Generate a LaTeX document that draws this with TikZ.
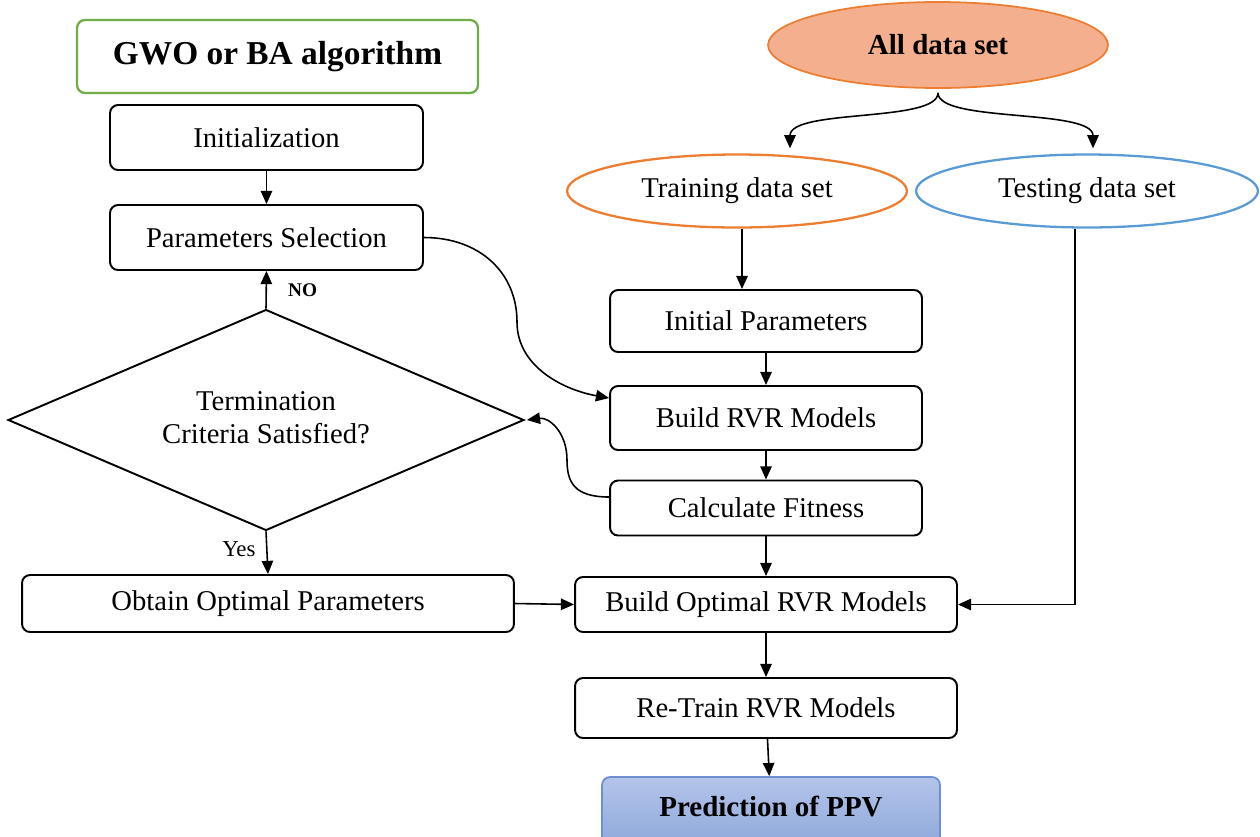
\documentclass[tikz,border=0pt]{standalone}
\usepackage{fontspec}
\setmainfont{Liberation Serif}
\usetikzlibrary{shapes.geometric,arrows.meta}
\definecolor{gwogreen}{HTML}{70AD47}
\definecolor{dataorange}{HTML}{ED7D31}
\definecolor{datafill}{HTML}{F4AF8E}
\definecolor{testblue}{HTML}{5B9BD5}
\definecolor{predtop}{HTML}{B4C4EA}
\definecolor{predbot}{HTML}{8EA8DA}
\definecolor{predline}{HTML}{6F8FD0}
\begin{document}
\begin{tikzpicture}[x=0.02cm,y=-0.02cm,
  txt/.style={font=\fontsize{16.3}{19.5}\selectfont},
  box/.style={txt, draw=black, line width=1.1pt, rounded corners=0.16cm,
    fill=white, inner sep=0pt},
  oval/.style={txt, ellipse, line width=1.3pt, fill=white, inner sep=0pt},
  arr/.style={-{Triangle[length=7.5pt,width=6.5pt]}, line width=0.9pt},
  smalllbl/.style={inner sep=0pt}]
\useasboundingbox (0,0) rectangle (1260,836);

% left column: optimiser loop
\node[box, draw=gwogreen, line width=1.3pt, minimum width=8.02cm, minimum height=1.46cm,
  font=\fontsize{19}{22}\selectfont\bfseries] (gwo) at (277.5,56.5) {GWO or BA algorithm};
\node[box, minimum width=6.26cm, minimum height=1.3cm] (init) at (266.5,137.5) {Initialization};
\node[box, minimum width=6.26cm, minimum height=1.3cm] (param) at (266.5,237.5) {Parameters Selection};
\node[txt, diamond, aspect=2.33, draw=black, line width=1.1pt, inner sep=0pt,
  minimum width=10.32cm, minimum height=4.42cm] (term) at (266,420)
  {\raisebox{6pt}{\begin{tabular}{@{}c@{}}Termination\\[-1pt]Criteria Satisfied?\end{tabular}}};
\node[box, minimum width=9.84cm, minimum height=1.14cm] (obtain) at (268,603.5) {Obtain Optimal Parameters};

% right column: data and model building
\node[oval, draw=dataorange, fill=datafill, line width=1pt, minimum width=6.8cm, minimum height=1.72cm,
  font=\fontsize{16.5}{20}\selectfont\bfseries] (all) at (938,45) {All data set};
\node[oval, draw=dataorange, minimum width=6.8cm, minimum height=1.46cm] (train) at (737,191) {Training data set};
\node[oval, draw=testblue, minimum width=6.84cm, minimum height=1.46cm] (test) at (1087,191) {Testing data set};
\node[box, minimum width=6.24cm, minimum height=1.24cm] (initp) at (766,321) {Initial Parameters};
\node[box, minimum width=6.24cm, minimum height=1.28cm] (brvr) at (766,418) {Build RVR Models};
\node[box, minimum width=6.24cm, minimum height=1.1cm] (calc) at (766,508) {Calculate Fitness};
\node[box, minimum width=7.64cm, minimum height=1.1cm] (bopt) at (766,604.5) {Build Optimal RVR Models};
\node[box, minimum width=7.64cm, minimum height=1.2cm] (retrain) at (766,708) {Re-Train RVR Models};
\node[box, draw=predline, line width=1pt, top color=predtop, bottom color=predbot,
  minimum width=6.76cm, minimum height=1.4cm,
  font=\fontsize{16.5}{20}\selectfont\bfseries] (pred) at (771,812) {\raisebox{6pt}{Prediction of PPV}};

% split of the data set
\coordinate (trainin) at ([xshift=1.06cm,yshift=0.1cm]train.north);
\coordinate (testin) at ([xshift=0.12cm,yshift=0.1cm]test.north);
\draw[arr] ([yshift=-0.08cm]all.south) .. controls +(0,30) and +(0,-40) .. (trainin);
\draw[arr] ([yshift=-0.08cm]all.south) .. controls +(0,30) and +(0,-40) .. (testin);

% straight connectors
\draw[arr] (init) -- (param);
\draw[arr] (term.north) -- (param.south)
  node[smalllbl, pos=0.5, right=12pt, font=\fontsize{11}{13}\selectfont\bfseries] (nolbl) {NO};
\draw[arr] (term.south) -- (obtain.north)
  node[smalllbl, pos=0.42, left=6pt, font=\fontsize{13}{15}\selectfont] (yeslbl) {Yes};
\draw[arr] (obtain.east) -- (bopt.west);
\draw[arr] ([xshift=0.1cm]train.south) -- ([xshift=0.1cm]train.south |- initp.north);
\draw[arr] (initp) -- (brvr);
\draw[arr] (brvr) -- (calc);
\draw[arr] (calc) -- (bopt);
\draw[arr] (bopt) -- (retrain);
\draw[arr] (retrain) -- (pred);
\draw[arr] ([xshift=-0.24cm]test.south) |- (bopt.east);

% curved loop connectors
\coordinate (psbend) at (517,322);
\coordinate (cfbend) at (567,460);
\draw[arr] (param.east) .. controls +(55,0) and +(0,-50) .. (psbend)
  .. controls +(0,45) and +(-45,-8) .. ([yshift=0.4cm]brvr.west);
\draw[arr] ([yshift=0.22cm]calc.west) .. controls +(-35,0) and +(0,22) .. (cfbend)
  .. controls +(0,-28) and +(22,-3) .. ([xshift=0.04cm]term.east);
\end{tikzpicture}
\end{document}
